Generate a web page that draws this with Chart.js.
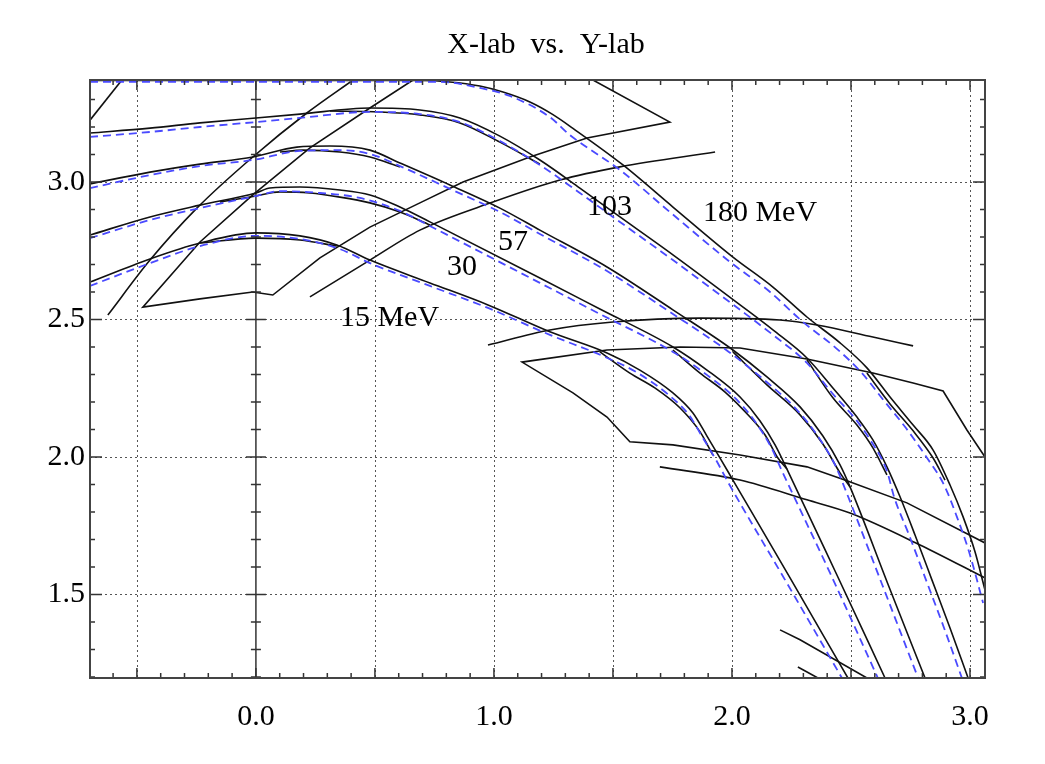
<!DOCTYPE html>
<html lang="en">
<head>
<meta charset="UTF-8">
<title>X-lab vs. Y-lab</title>
<script src="https://cdn.jsdelivr.net/npm/chart.js@4.4.0/dist/chart.umd.min.js"></script>
<style>
  html, body { margin: 0; padding: 0; background: #fff; }
  #wrap { width: 1045px; height: 764px; }
</style>
</head>
<body>
<div id="wrap"><canvas id="chart"></canvas></div>
<script>
// axis ranges, labelled ticks, dotted grid positions
const xRange = [-0.697, 3.063];
const yRange = [1.196, 3.371];
const xTickLabels = [0, 1, 2, 3];
const yTickLabels = [1.5, 2.0, 2.5, 3.0];
const xGrid = [-0.5, 0.5, 1.0, 1.5, 2.0, 2.5, 3.0];
const yGrid = [1.5, 2.0, 2.5, 3.0];

// 15 MeV
const e15a = [[-0.697,2.636],[-0.445,2.720],[-0.235,2.778],[0,2.815],[0.185,2.804],[0.340,2.771],[0.479,2.716],[0.731,2.633],[0.975,2.553],[1.235,2.455],[1.475,2.378],[1.613,2.316],[1.752,2.233],[1.836,2.160],[1.895,2.076],[1.950,1.996],[2.004,1.916],[2.244,1.560],[2.487,1.196]];
const e15b = [[-0.235,2.778],[0,2.796],[0.185,2.789],[0.340,2.767]];
const e15c = [[1.445,2.382],[1.571,2.305],[1.676,2.251],[1.782,2.178],[1.866,2.091],[1.920,2.007]];
const b15 = [[-0.697,2.622],[-0.445,2.705],[-0.235,2.767],[0,2.804],[0.185,2.793],[0.353,2.756],[0.479,2.705],[0.731,2.622],[0.975,2.542],[1.235,2.444],[1.458,2.367],[1.597,2.309],[1.735,2.225],[1.819,2.153],[1.878,2.069],[1.933,1.989],[1.983,1.909],[2.223,1.553],[2.462,1.196]];

// 30 MeV
const e30a = [[-0.697,2.807],[-0.445,2.873],[-0.235,2.916],[0,2.960],[0.059,2.978],[0.185,2.982],[0.353,2.971],[0.479,2.953],[0.605,2.909],[0.731,2.855],[1.193,2.651],[1.445,2.538],[1.752,2.400],[1.895,2.316],[2.034,2.218],[2.118,2.131],[2.181,2.044],[2.231,1.956],[2.437,1.578],[2.643,1.196]];
const e30b = [[-0.151,2.927],[0,2.949],[0.101,2.964],[0.227,2.960],[0.353,2.945],[0.479,2.924],[0.605,2.891],[0.731,2.844]];
const e30c = [[1.752,2.389],[1.866,2.305],[1.971,2.236],[2.076,2.145],[2.139,2.080],[2.193,1.996],[2.231,1.956]];
const b30 = [[-0.697,2.796],[-0.445,2.862],[-0.235,2.905],[0,2.949],[0.101,2.967],[0.269,2.960],[0.437,2.942],[0.605,2.895],[0.731,2.840],[1.193,2.633],[1.445,2.520],[1.752,2.382],[1.878,2.309],[2.017,2.211],[2.101,2.124],[2.164,2.036],[2.210,1.949],[2.412,1.578],[2.613,1.196]];

// 57 MeV
const e57a = [[-0.697,2.993],[-0.445,3.036],[-0.235,3.065],[-0.013,3.091],[0.172,3.127],[0.311,3.131],[0.479,3.116],[0.605,3.069],[0.815,2.989],[1.025,2.905],[1.193,2.825],[1.475,2.691],[1.752,2.535],[2.004,2.389],[2.147,2.291],[2.286,2.182],[2.382,2.076],[2.454,1.971],[2.496,1.891],[2.655,1.538],[2.811,1.196]];
const e57b = [[0.101,3.109],[0.197,3.116],[0.353,3.109],[0.479,3.091],[0.605,3.055]];
const e57c = [[2.004,2.382],[2.147,2.262],[2.286,2.153],[2.382,2.047],[2.454,1.942],[2.496,1.891]];
const b57 = [[-0.697,2.978],[-0.445,3.025],[-0.235,3.058],[-0.013,3.080],[0.185,3.113],[0.353,3.116],[0.479,3.102],[0.605,3.058],[0.815,2.975],[1.025,2.891],[1.193,2.811],[1.475,2.676],[1.752,2.520],[1.987,2.382],[2.130,2.284],[2.269,2.175],[2.366,2.069],[2.437,1.964],[2.475,1.884],[2.630,1.538],[2.782,1.196]];

// 103 MeV
const e103a = [[-0.697,3.178],[-0.445,3.196],[-0.235,3.215],[0,3.233],[0.185,3.247],[0.479,3.269],[0.689,3.262],[0.857,3.233],[1.025,3.167],[1.193,3.080],[1.361,2.978],[1.500,2.891],[1.752,2.735],[2.034,2.553],[2.172,2.462],[2.315,2.360],[2.424,2.251],[2.525,2.145],[2.592,2.062],[2.651,1.964],[2.706,1.855],[2.769,1.716],[2.840,1.553],[2.916,1.378],[2.992,1.196]];
const e103b = [[0.311,3.258],[0.521,3.255],[0.689,3.244],[0.857,3.215],[1.025,3.145],[1.193,3.065]];
const e103c = [[2.315,2.353],[2.424,2.215],[2.525,2.116],[2.592,2.033],[2.651,1.935]];
const b103 = [[-0.697,3.164],[-0.445,3.182],[-0.235,3.200],[0,3.218],[0.185,3.233],[0.479,3.255],[0.689,3.247],[0.857,3.218],[1.025,3.149],[1.193,3.062],[1.361,2.960],[1.500,2.873],[1.752,2.716],[2.034,2.535],[2.172,2.444],[2.315,2.342],[2.424,2.229],[2.525,2.131],[2.592,2.047],[2.651,1.949],[2.681,1.855],[2.744,1.716],[2.815,1.553],[2.891,1.378],[2.966,1.196]];

// 180 MeV (runs along the top frame on the left)
const e180a = [[-0.697,3.369],[-0.025,3.369],[0.689,3.369],[0.815,3.364],[0.941,3.349],[1.038,3.327],[1.151,3.291],[1.248,3.245],[1.332,3.195],[1.542,3.062],[1.752,2.909],[2.004,2.727],[2.172,2.618],[2.315,2.509],[2.454,2.415],[2.567,2.324],[2.664,2.218],[2.761,2.116],[2.845,2.025],[2.916,1.898],[2.971,1.782],[3.021,1.655],[3.063,1.516]];
const e180c = [[2.567,2.305],[2.664,2.193],[2.761,2.095],[2.845,1.996],[2.895,1.916]];
const b180 = [[-0.697,3.364],[0.773,3.364],[0.941,3.342],[1.067,3.313],[1.235,3.236],[1.319,3.171],[1.529,3.044],[1.739,2.891],[1.992,2.709],[2.160,2.600],[2.298,2.491],[2.437,2.396],[2.546,2.305],[2.639,2.204],[2.731,2.105],[2.811,2.007],[2.891,1.898],[2.945,1.782],[2.996,1.655],[3.055,1.469]];

// crossing lines
const l0 = [[-0.697,3.225],[-0.563,3.371]];
const l1 = [[-0.622,2.516],[-0.445,2.716],[-0.248,2.905],[-0.013,3.091],[0.214,3.251],[0.408,3.371]];
const quad1 = [[0.660,3.371],[0.479,3.269],[0.227,3.124],[-0.013,2.953],[-0.235,2.782],[-0.475,2.545],[-0.235,2.575],[-0.013,2.600],[0.071,2.589],[0.269,2.724],[0.479,2.836],[0.689,2.924],[0.870,3.000],[1.151,3.091],[1.391,3.160],[1.739,3.218],[1.416,3.371]];
const l4 = [[0.227,2.582],[0.479,2.716],[0.689,2.825],[0.996,2.927],[1.277,3.007],[1.529,3.055],[1.929,3.109]];
const l5 = [[0.975,2.407],[1.235,2.462],[1.500,2.491],[1.866,2.505],[2.202,2.498],[2.357,2.480],[2.592,2.436],[2.761,2.404]];
const quad2 = [[3.063,1.687],[2.735,1.833],[2.483,1.913],[2.315,1.964],[2.034,2.007],[1.752,2.044],[1.571,2.055],[1.475,2.145],[1.332,2.233],[1.118,2.345],[1.475,2.389],[1.782,2.400],[2.034,2.396],[2.315,2.356],[2.592,2.305],[2.761,2.269],[2.887,2.240],[2.987,2.098],[3.063,2.000]];
const l8 = [[1.697,1.964],[2.034,1.916],[2.315,1.844],[2.496,1.796],[2.790,1.680],[3.063,1.560]];
const l9 = [[2.202,1.371],[2.286,1.335],[2.567,1.196]];
const l10 = [[2.277,1.236],[2.361,1.196]];

// curve labels
const curveLabels = ['15 MeV', '30', '57', '103', '180 MeV'];
const curveLabelX = [0.353, 0.803, 1.017, 1.391, 1.878];
const curveLabelY = [2.476, 2.662, 2.753, 2.880, 2.858];

const serif = "'Liberation Serif', 'DejaVu Serif', serif";

function pts(arr) { return arr.map(p => ({ x: p[0], y: p[1] })); }
// smooth curves are monotone in x; polylines with fold-backs stay straight
function solid(arr, smooth) {
  const ds = { data: pts(arr), showLine: true, borderColor: '#111', borderWidth: 1.6,
               pointRadius: 0, clip: 0 };
  if (smooth === false) ds.tension = 0;
  else ds.cubicInterpolationMode = 'monotone';
  return ds;
}
function dashed(arr) {
  return { data: pts(arr), showLine: true, borderColor: '#4a4aff', borderWidth: 1.8,
           borderDash: [8, 5], pointRadius: 0, cubicInterpolationMode: 'monotone', clip: 0 };
}

const decor = {
  id: 'decor',
  beforeDatasetsDraw(chart) {
    const { ctx, chartArea: a, scales: { x, y } } = chart;
    ctx.save();
    ctx.strokeStyle = '#555';
    ctx.lineWidth = 1;
    ctx.setLineDash([2, 3]);
    xGrid.forEach(v => {
      const px = Math.round(x.getPixelForValue(v)) + 0.5;
      ctx.beginPath(); ctx.moveTo(px, a.top); ctx.lineTo(px, a.bottom); ctx.stroke();
    });
    yGrid.forEach(v => {
      const py = Math.round(y.getPixelForValue(v)) + 0.5;
      ctx.beginPath(); ctx.moveTo(a.left, py); ctx.lineTo(a.right, py); ctx.stroke();
    });
    ctx.setLineDash([]);
    ctx.strokeStyle = '#333';
    ctx.lineWidth = 1.5;
    const x0 = x.getPixelForValue(0);
    ctx.beginPath(); ctx.moveTo(x0, a.top); ctx.lineTo(x0, a.bottom); ctx.stroke();
    ctx.restore();
  },
  afterDatasetsDraw(chart) {
    const { ctx, chartArea: a, scales: { x, y } } = chart;
    ctx.save();
    ctx.strokeStyle = '#333';
    ctx.lineWidth = 1.5;
    // minor / major ticks on all four sides, and across the zero line
    for (let i = -6; i <= 30; i++) {
      const px = x.getPixelForValue(i / 10);
      const len = i % 5 === 0 ? 10 : 5;
      ctx.beginPath();
      ctx.moveTo(px, a.bottom); ctx.lineTo(px, a.bottom - len);
      ctx.moveTo(px, a.top); ctx.lineTo(px, a.top + len);
      ctx.stroke();
    }
    const x0 = x.getPixelForValue(0);
    for (let i = 12; i <= 33; i++) {
      const py = y.getPixelForValue(i / 10);
      const len = i % 5 === 0 ? 12 : 5;
      const cl = i % 5 === 0 ? 10 : 5;
      ctx.beginPath();
      ctx.moveTo(a.left, py); ctx.lineTo(a.left + len, py);
      ctx.moveTo(a.right, py); ctx.lineTo(a.right - len, py);
      ctx.moveTo(x0 - cl, py); ctx.lineTo(x0 + cl, py);
      ctx.stroke();
    }
    ctx.strokeStyle = '#444';
    ctx.lineWidth = 2;
    ctx.strokeRect(a.left, a.top, a.right - a.left, a.bottom - a.top);

    ctx.fillStyle = '#000';
    ctx.font = '30px ' + serif;
    ctx.textAlign = 'left';
    ctx.textBaseline = 'alphabetic';
    curveLabels.forEach((t, i) => {
      ctx.fillText(t, x.getPixelForValue(curveLabelX[i]), y.getPixelForValue(curveLabelY[i]));
    });
    ctx.textAlign = 'center';
    ctx.fillText('X-lab  vs.  Y-lab', 546, 53);
    ctx.restore();
  }
};

new Chart(document.getElementById('chart'), {
  type: 'scatter',
  data: {
    datasets: [
      dashed(b15), dashed(b30), dashed(b57), dashed(b103), dashed(b180),
      solid(e15a), solid(e15b), solid(e15c),
      solid(e30a), solid(e30b), solid(e30c),
      solid(e57a), solid(e57b), solid(e57c),
      solid(e103a), solid(e103b), solid(e103c),
      solid(e180a), solid(e180c),
      solid(l0, false), solid(l1), solid(quad1, false), solid(l4),
      solid(l5), solid(quad2, false), solid(l8), solid(l9, false), solid(l10, false)
    ]
  },
  options: {
    responsive: true,
    maintainAspectRatio: false,
    animation: false,
    events: [],
    layout: { padding: { top: 80, right: 60, left: 0, bottom: 0 } },
    plugins: { legend: { display: false }, tooltip: { enabled: false }, title: { display: false } },
    scales: {
      x: {
        type: 'linear', min: xRange[0], max: xRange[1],
        afterBuildTicks: s => { s.ticks = xTickLabels.map(v => ({ value: v })); },
        afterFit: s => { s.height = 86; },
        grid: { display: false, drawTicks: false },
        border: { display: false },
        ticks: { color: '#000', padding: 21, maxRotation: 0, font: { family: serif, size: 30 },
                 callback: v => Number(v).toFixed(1) }
      },
      y: {
        type: 'linear', min: yRange[0], max: yRange[1],
        afterBuildTicks: s => { s.ticks = yTickLabels.map(v => ({ value: v })); },
        afterFit: s => { s.width = 90; },
        grid: { display: false, drawTicks: false },
        border: { display: false },
        ticks: { color: '#000', padding: 5, font: { family: serif, size: 30 },
                 callback: v => Number(v).toFixed(1) }
      }
    }
  },
  plugins: [decor]
});
</script>
</body>
</html>
